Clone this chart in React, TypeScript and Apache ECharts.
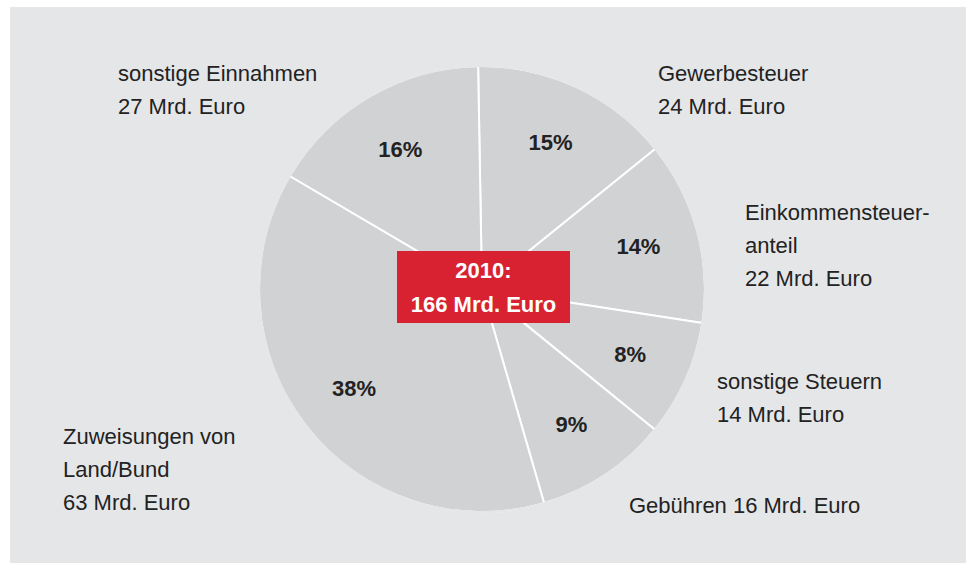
import React, { useEffect, useRef } from "react";
import * as echarts from "echarts";

const categories = [
  "Gewerbesteuer",
  "Einkommensteuer-\nanteil",
  "sonstige Steuern",
  "Gebühren",
  "Zuweisungen von\nLand/Bund",
  "sonstige Einnahmen",
];
const valuesMrd = [24, 22, 14, 16, 63, 27];
const percents = [15, 14, 8, 9, 38, 16];
const totalLabel = ["2010:", "166 Mrd. Euro"];

const FONT = "'Liberation Sans', Arial, Helvetica, sans-serif";
const BG = "#e5e6e8";

export default function App() {
  const ref = useRef<HTMLDivElement>(null);
  useEffect(() => {
    document.body.style.margin = "0";
    const chart = echarts.init(ref.current!, undefined, { renderer: "svg" });

    const data = categories.map((c, i) => ({ name: c, value: valuesMrd[i] }));

    // label anchor positions (left x, first line center y)
    const labelPos: [number, number][] = [
      [658, 73],
      [745, 212],
      [717, 381],
      [629, 505],
      [63, 436],
      [118, 73],
    ];
    const lh = 33;
    const labelTexts = categories.map((c, i) =>
      i === 3 ? `${c} ${valuesMrd[i]} Mrd. Euro` : `${c}\n${valuesMrd[i]} Mrd. Euro`
    );

    chart.setOption({
      animation: false,
      backgroundColor: "#ffffff",
      graphic: [
        {
          type: "rect",
          z: -10,
          silent: true,
          shape: { x: 10, y: 7, width: 966, height: 563 },
          style: { fill: BG },
        },
        {
          type: "circle",
          z: 5,
          silent: true,
          shape: { cx: 482, cy: 289, r: 223.2 },
          style: { fill: "none", stroke: BG, lineWidth: 2.6 },
        },
        ...labelTexts.map((t, i) => ({
          type: "text",
          x: labelPos[i][0],
          y: labelPos[i][1] - lh / 2,
          style: {
            text: t,
            font: `22px ${FONT}`,
            fill: "#222222",
            lineHeight: lh,
            align: "left",
            verticalAlign: "top",
          },
        })),
        {
          type: "rect",
          z: 10,
          shape: { x: 397, y: 251, width: 173, height: 72 },
          style: { fill: "#d92231" },
        },
        {
          type: "text",
          z: 11,
          x: 483.5,
          y: 287,
          style: {
            text: totalLabel.join("\n"),
            font: `bold 22px ${FONT}`,
            fill: "#ffffff",
            lineHeight: 34,
            align: "center",
            verticalAlign: "middle",
          },
        },
      ],
      series: [
        {
          type: "pie",
          center: [482, 289],
          radius: [0, 223],
          startAngle: 91,
          clockwise: true,
          silent: true,
          label: { show: false },
          labelLine: { show: false },
          itemStyle: { color: "#d1d2d4", borderColor: "#ffffff", borderWidth: 2 },
          data,
        },
        {
          type: "pie",
          center: [482, 289],
          radius: [96, 222],
          startAngle: 91,
          clockwise: true,
          silent: true,
          z: 3,
          itemStyle: { color: "rgba(0,0,0,0)", borderWidth: 0 },
          label: {
            show: true,
            position: "inside",
            formatter: (p: any) => `${percents[p.dataIndex]}%`,
            fontFamily: FONT,
            fontWeight: "bold",
            fontSize: 22,
            color: "#222222",
          },
          labelLine: { show: false },
          data,
        },
      ],
    });
    return () => chart.dispose();
  }, []);
  return <div ref={ref} style={{ width: 966, height: 563 }} />;
}
